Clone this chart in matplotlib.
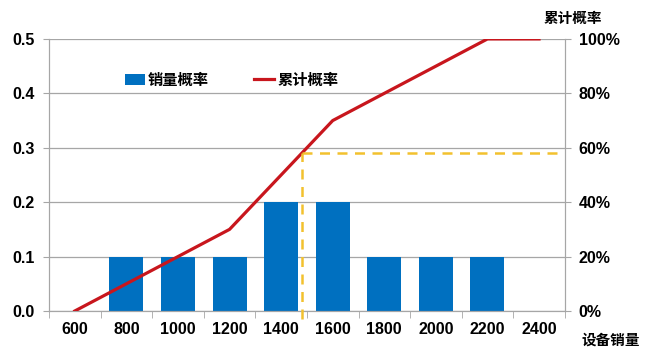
import numpy as np
import matplotlib.pyplot as plt
from matplotlib.ticker import FixedLocator

plt.rcParams['font.family'] = ['Liberation Sans', 'Noto Sans CJK SC', 'DejaVu Sans']

# Données
ventes = [600, 800, 1000, 1200, 1400, 1600, 1800, 2000, 2200, 2400]
proba = [0.0, 0.1, 0.1, 0.1, 0.2, 0.2, 0.1, 0.1, 0.1, 0.0]
cumul = [0.0, 0.1, 0.2, 0.3, 0.5, 0.7, 0.8, 0.9, 1.0, 1.0]
seuil_idx = 4.4  # position de la ligne pointillée (entre 1400 et 1600)

bleu = '#0070C0'
rouge = '#C8161D'
jaune = '#F2C12E'
gris = '#A6A6A6'

x = np.arange(len(ventes))

fig = plt.figure(figsize=(6.5, 3.54), dpi=100)
ax = fig.add_axes([0.0754, 0.1215, 0.7936, 0.7685])
ax2 = ax.twinx()

ax.set_axisbelow(True)
ax.yaxis.grid(True, color=gris, linewidth=0.9)
b = ax.bar(x, proba, width=0.66, color=bleu, label='销量概率', zorder=2)
ax.set_xlim(-0.5, len(ventes) - 0.5)
ax.set_ylim(0, 0.5)
ax.set_yticks(np.arange(0, 0.51, 0.1))
ax.set_yticklabels([f'{v:.1f}' for v in np.arange(0, 0.51, 0.1)])
ax.set_xticks(x)
ax.set_xticklabels([str(v) for v in ventes])
ax.xaxis.set_minor_locator(FixedLocator(np.arange(-0.5, len(ventes), 1)))
ax.tick_params(axis='x', which='major', length=0, pad=8)
ax.tick_params(axis='x', which='minor', length=5, color=gris, direction='out')
ax.tick_params(axis='y', length=4, color=gris, pad=6)

ax2.set_ylim(0, 1.0)
ax2.set_yticks(np.arange(0, 1.01, 0.2))
ax2.set_yticklabels([f'{int(round(v * 100))}%' for v in np.arange(0, 1.01, 0.2)])
ax2.tick_params(axis='y', length=4, color=gris, pad=6)
l, = ax2.plot(x, cumul, color=rouge, linewidth=2.3, label='累计概率', zorder=3)

# ligne pointillée jaune
y_seuil = np.interp(seuil_idx, x, cumul)
ax2.plot([seuil_idx, seuil_idx], [-0.03, y_seuil], color=jaune, linestyle='--',
         linewidth=1.8, dashes=(4, 3), clip_on=False, zorder=4)
ax2.plot([seuil_idx, len(ventes) - 0.5], [y_seuil, y_seuil], color=jaune,
         linestyle='--', linewidth=1.8, dashes=(4, 3), zorder=4)

for a in (ax, ax2):
    a.spines['top'].set_visible(False)
    a.spines['left'].set_color(gris)
    a.spines['right'].set_color(gris)
    a.spines['bottom'].set_color(gris)
    for lab in a.get_xticklabels() + a.get_yticklabels():
        lab.set_fontsize(11.5)
        lab.set_fontweight('bold')

leg = ax.legend([b, l], ['销量概率', '累计概率'], loc='upper left',
                bbox_to_anchor=(0.12, 0.93), ncol=2, frameon=False,
                handlelength=1.3, columnspacing=3.0, handletextpad=0.2,
                prop={'family': ['Noto Sans CJK SC'], 'weight': 'bold', 'size': 11})

fig.text(0.882, 0.95, '累计概率', ha='center', va='center', fontsize=10.5,
         fontweight='bold', family=['Noto Sans CJK SC'])
fig.text(0.94, 0.04, '设备销量', ha='center', va='center', fontsize=10.5,
         fontweight='bold', family=['Noto Sans CJK SC'])

fig.savefig('out.png', dpi=100)
